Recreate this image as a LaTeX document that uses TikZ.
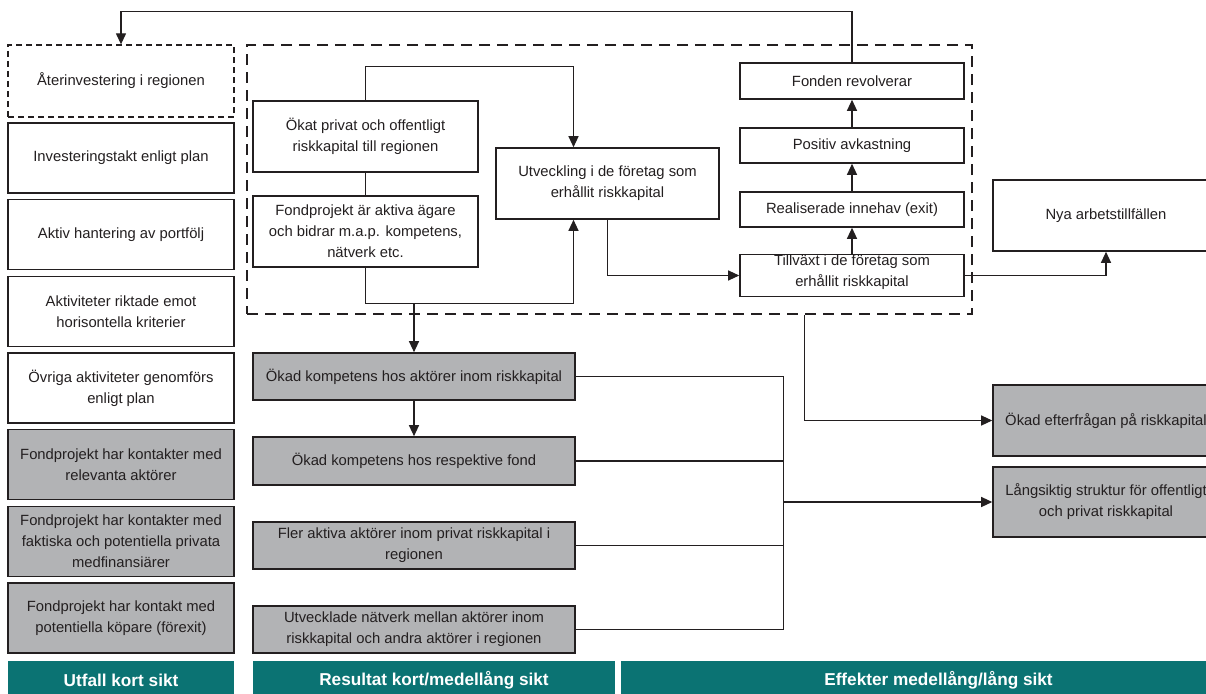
\documentclass[tikz,border=0pt]{standalone}
\usepackage{fontspec}
\setmainfont{Liberation Sans}
\usetikzlibrary{arrows.meta,calc}
\definecolor{ink}{HTML}{231F20}
\definecolor{boxgray}{HTML}{B2B3B5}
\definecolor{hdrteal}{HTML}{0B7373}
\begin{document}
\begin{tikzpicture}[x=1pt,y=-1pt,
  box/.style={draw=ink, line width=1.6pt, fill=white, inner sep=0pt, align=center, text=ink, font=\fontsize{14.8}{21}\selectfont},
  graybox/.style={box, fill=boxgray},
  lbox/.style={box, minimum width=226pt, minimum height=70pt},
  lgbox/.style={graybox, minimum width=226pt, minimum height=70pt},
  mbox/.style={graybox, minimum width=322pt, minimum height=47pt},
  rbox/.style={box, minimum width=224pt, minimum height=36pt},
  cbox/.style={box, minimum width=225pt, minimum height=71pt},
  hdr/.style={fill=hdrteal, text=white, inner sep=0pt, minimum height=38pt, font=\fontsize{17.2}{20}\selectfont\bfseries},
  conn/.style={draw=ink, line width=1.2pt},
  arr/.style={conn, -{Triangle[length=11pt,width=10pt]}},
]
\useasboundingbox[fill=white] (0,0) rectangle (1206,693);

% big dashed frame
\node[draw=ink, line width=2.8pt, dash pattern=on 11pt off 7pt, minimum width=725pt, minimum height=269pt, inner sep=0pt] (D) at (609.5,179.5) {};

% left column
\node[box, minimum width=226pt, minimum height=72pt, line width=1.3pt, dash pattern=on 6pt off 4pt] (L1) at (121,81) {Återinvestering i regionen};
\node[lbox] (L2) at (121,158) {Investeringstakt enligt plan};
\node[lbox] (L3) at (121,234.5) {Aktiv hantering av portfölj};
\node[lbox] (L4) at (121,311.5) {Aktiviteter riktade emot\\horisontella kriterier};
\node[lbox] (L5) at (121,388) {Övriga aktiviteter genomförs\\enligt plan};
\node[lgbox] (L6) at (121,464.5) {Fondprojekt har kontakter med\\relevanta aktörer};
\node[lgbox] (L7) at (121,541.5) {Fondprojekt har kontakter med\\faktiska och potentiella privata\\medfinansiärer};
\node[lgbox] (L8) at (121,618) {Fondprojekt har kontakt med\\potentiella köpare (förexit)};

% inside dashed frame
\node[cbox] (ok) at (365.5,136.5) {Ökat privat och offentligt\\riskkapital till regionen};
\node[cbox] (fp) at (365.5,231.5) {Fondprojekt är aktiva ägare\\och bidrar m.a.p. kompetens,\\nätverk etc.};
\node[box, minimum width=223pt, minimum height=71pt] (ut) at (607.5,183.5) {Utveckling i de företag som\\erhållit riskkapital};
\node[rbox] (fr) at (852,81) {Fonden revolverar};
\node[rbox, minimum height=35pt] (pa) at (852,145.5) {Positiv avkastning};
\node[rbox, minimum height=35pt] (ri) at (852,209.5) {Realiserade innehav (exit)};
\node[rbox, minimum height=39pt, text depth=10pt] (ti) at (852,275.5) {Tillväxt i de företag som\\erhållit riskkapital};

% right side
\node[box, minimum width=226pt, minimum height=71pt] (ny) at (1106,215.5) {Nya arbetstillfällen};
\node[graybox, minimum width=226pt, minimum height=71pt] (ef) at (1106,420.5) {Ökad efterfrågan på riskkapital};
\node[graybox, minimum width=226pt, minimum height=70pt] (ls) at (1106,502) {Långsiktig struktur för offentligt\\och privat riskkapital};

% middle column
\node[mbox] (M1) at (414,376.5) {Ökad kompetens hos aktörer inom riskkapital};
\node[mbox, minimum height=48pt] (M2) at (414,461) {Ökad kompetens hos respektive fond};
\node[mbox] (M3) at (414,545.5) {Fler aktiva aktörer inom privat riskkapital i\\regionen};
\node[mbox] (M4) at (414,629.5) {Utvecklade nätverk mellan aktörer inom\\riskkapital och andra aktörer i regionen};

% headers
\node[hdr, minimum width=226pt] (H1) at (121,680) {Utfall kort sikt};
\node[hdr, minimum width=362pt] (H2) at (434,680) {Resultat kort/medellång sikt};
\node[hdr, minimum width=635pt] (H3) at (938.5,680) {Effekter medellång/lång sikt};

% connectors
\draw[arr] (fr.north) -- ++(0,-51) -| (L1.north);
\draw[conn] (ok.south) -- (fp.north);
\draw[arr] (ok.north) -- ++(0,-34) -| ([xshift=-34pt]ut.north);
\coordinate (jn) at ($(fp.south)+(0,36)$);
\draw[arr] (fp.south) -- (jn) -| ([xshift=-34pt]ut.south);
\draw[arr] (jn -| M1.north) -- (M1.north);
\draw[arr] (ut.south) |- (ti.west);
\draw[arr] (ti.north) -- (ri.south);
\draw[arr] (ri.north) -- (pa.south);
\draw[arr] (pa.north) -- (fr.south);
\draw[arr] (ti.east) -| (ny.south);
\draw[arr] ([xshift=195pt]D.south) |- (ef.west);
\draw[arr] (M1.south) -- (M2.north);
\coordinate (cT) at ($(M1.east)+(208,0)$);
\coordinate (cB) at ($(M4.east)+(208,0)$);
\draw[conn] (M1.east) -- (cT) -- (cB) -- (M4.east);
\draw[conn] (M2.east) -- (M2.east -| cT);
\draw[conn] (M3.east) -- (M3.east -| cT);
\draw[arr] (cT |- ls.west) -- (ls.west);
\end{tikzpicture}
\end{document}
